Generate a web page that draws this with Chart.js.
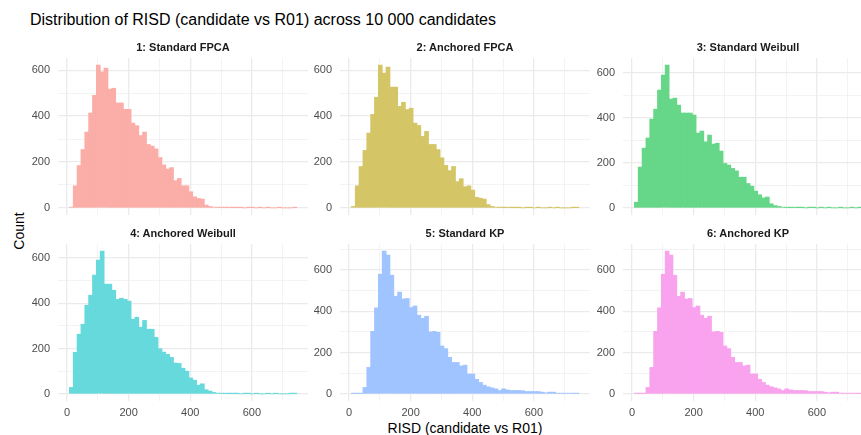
<!DOCTYPE html>
<html>
<head>
<meta charset="utf-8">
<script src="https://cdn.jsdelivr.net/npm/chart.js@4.4.1/dist/chart.umd.min.js"></script>
<style>
  html, body { margin: 0; padding: 0; background: #fff; overflow: hidden; }
  body { width: 861px; height: 435px; position: relative; font-family: "Liberation Sans", Arial, sans-serif; }
  .title { position: absolute; left: 30px; top: 12px; font-size: 16px; line-height: 16px; color: #000; white-space: nowrap; }
  .strip { position: absolute; width: 250px; font-size: 11px; line-height: 11px; font-weight: bold; color: #1a1a1a; text-align: center; white-space: nowrap; }
  .axis-title { position: absolute; font-size: 14px; line-height: 14px; color: #000; white-space: nowrap; text-align: center; }
  canvas { position: absolute; }
</style>
</head>
<body>
<div class="title">Distribution of RISD (candidate vs R01) across 10 000 candidates</div>
<div class="axis-title" style="left:-11.5px; top:224px; width:60px; transform:rotate(-90deg);">Count</div>
<div class="axis-title" style="left:365px; top:421px; width:200px;">RISD (candidate vs R01)</div>

<script>
  // bin midpoints (RISD), bin width 12.5
  const binMids = [14.25, 26.75, 39.25, 51.75, 64.25, 76.75, 89.25, 101.75, 114.25, 126.75,
    139.25, 151.75, 164.25, 176.75, 189.25, 201.75, 214.25, 226.75, 239.25, 251.75,
    264.25, 276.75, 289.25, 301.75, 314.25, 326.75, 339.25, 351.75, 364.25, 376.75,
    389.25, 401.75, 414.25, 426.75, 439.25, 451.75, 464.25, 476.75, 489.25, 501.75,
    514.25, 526.75, 539.25, 551.75, 564.25, 576.75, 589.25, 601.75, 614.25, 626.75,
    639.25, 651.75, 664.25, 676.75, 689.25, 701.75, 714.25, 726.75, 739.25];

  const panelTitles = ["1: Standard FPCA", "2: Anchored FPCA", "3: Standard Weibull",
    "4: Anchored Weibull", "5: Standard KP", "6: Anchored KP"];

  const standardFpca = [3, 96, 184, 254, 330, 413, 490, 622, 593, 609, 517, 521, 457, 457, 429, 429,
    369, 358, 315, 330, 276, 269, 257, 219, 187, 169, 175, 118, 128, 96, 96, 70, 48, 41, 38, 12, 6,
    3, 2, 2, 1, 2, 1, 1, 1, 0, 1, 1, 0, 1, 0, 1, 0, 0, 1, 0, 0, 0, 1];
  const anchoredFpca = [6, 96, 180, 250, 326, 407, 482, 622, 587, 613, 526, 526, 442, 460, 428, 434,
    369, 359, 311, 333, 276, 276, 254, 218, 185, 162, 180, 114, 127, 92, 96, 77, 46, 42, 38, 14, 6,
    3, 2, 1, 2, 1, 1, 1, 0, 1, 1, 0, 1, 0, 0, 1, 0, 1, 0, 0, 0, 1, 1];
  const standardWeibull = [25, 181, 265, 310, 394, 438, 523, 590, 634, 483, 487, 456, 421, 421, 421, 412,
    332, 341, 293, 323, 283, 287, 252, 197, 190, 175, 164, 136, 136, 108, 96, 74, 58, 44, 48, 18, 10, 6,
    3, 2, 1, 2, 1, 1, 0, 1, 1, 0, 1, 0, 1, 0, 0, 1, 0, 0, 1, 0, 1];
  const anchoredWeibull = [28, 183, 263, 307, 391, 435, 524, 590, 630, 484, 484, 457, 417, 422, 417, 409,
    329, 338, 294, 324, 285, 285, 249, 199, 184, 174, 161, 136, 134, 113, 100, 70, 60, 38, 44, 18, 12, 6,
    3, 2, 2, 1, 1, 1, 0, 1, 1, 0, 1, 0, 0, 1, 0, 1, 0, 0, 0, 1, 1];
  const standardKp = [2, 2, 2, 31, 128, 303, 417, 580, 692, 673, 575, 473, 493, 460, 462, 418,
    426, 381, 366, 376, 300, 303, 298, 232, 219, 177, 152, 152, 135, 139, 96, 96, 70, 55, 42, 34,
    29, 24, 16, 24, 19, 16, 16, 16, 15, 11, 11, 11, 11, 8, 5, 8, 8, 3, 3, 3, 3, 3, 2];
  const anchoredKp = [2, 2, 2, 31, 128, 303, 417, 580, 692, 673, 575, 473, 493, 460, 462, 418,
    426, 381, 366, 376, 300, 303, 298, 232, 219, 177, 152, 152, 135, 139, 96, 96, 70, 55, 42, 34,
    29, 24, 16, 24, 19, 16, 16, 16, 15, 11, 11, 11, 11, 8, 5, 8, 8, 3, 3, 3, 3, 3, 2];

  const counts = [standardFpca, anchoredFpca, standardWeibull, anchoredWeibull, standardKp, anchoredKp];
  const fillColours = ["#F8766D", "#B79F00", "#00BA38", "#00BFC4", "#619CFF", "#F564E3"];
  const gridTicks = [0, 100, 200, 300, 400, 500, 600, 700];

  // facet layout: 3 columns x 2 rows
  const colLeft = [13, 295, 578];
  const rowTop = [58, 244];
  const panelW = 250, panelH = 157, yAxisW = 45, pad = 16;

  // 60% fill over white, flattened so neighbouring bars don't leave seams
  function tint(hex, a) {
    const n = parseInt(hex.slice(1), 16);
    const mix = c => Math.round(c * a + 255 * (1 - a));
    return "rgb(" + mix(n >> 16) + "," + mix((n >> 8) & 255) + "," + mix(n & 255) + ")";
  }

  function gridWidth(ctx) {
    return ctx.tick && ctx.tick.value % 200 === 0 ? 1.3 : 0.6;
  }

  const tickFont = { family: "'Liberation Sans', Arial, sans-serif", size: 11 };

  function makePanel(i) {
    const col = i % 3, row = Math.floor(i / 3);
    const bottomRow = row === 1;
    const xAxisH = bottomRow ? 22 : 0;

    const canvas = document.createElement("canvas");
    canvas.width = yAxisW + panelW;
    canvas.height = pad + panelH + (bottomRow ? xAxisH : pad);
    canvas.style.left = colLeft[col] + "px";
    canvas.style.top = (rowTop[row] - pad) + "px";
    document.body.appendChild(canvas);

    const strip = document.createElement("div");
    strip.className = "strip";
    strip.textContent = panelTitles[i];
    strip.style.left = (colLeft[col] + yAxisW) + "px";
    strip.style.top = (row === 0 ? 42 : 228) + "px";
    document.body.appendChild(strip);

    const values = counts[i];
    const maxCount = Math.max(...values);

    new Chart(canvas, {
      type: "bar",
      data: {
        datasets: [{
          data: binMids.map((m, k) => ({ x: m, y: values[k] })),
          backgroundColor: tint(fillColours[i], 0.6),
          borderWidth: 0,
          inflateAmount: 0.4,
          barPercentage: 1,
          categoryPercentage: 1
        }]
      },
      options: {
        responsive: false,
        animation: false,
        events: [],
        layout: { padding: { top: pad, bottom: bottomRow ? 0 : pad, left: 0, right: 0 } },
        plugins: { legend: { display: false }, tooltip: { enabled: false } },
        scales: {
          x: {
            type: "linear",
            min: -29,
            max: 782,
            offset: false,
            afterBuildTicks: s => { s.ticks = gridTicks.map(v => ({ value: v })); },
            afterFit: s => { s.height = xAxisH; },
            border: { display: false },
            grid: { color: "#EBEBEB", lineWidth: gridWidth, drawTicks: false, offset: false },
            ticks: {
              display: bottomRow,
              autoSkip: false,
              maxRotation: 0,
              padding: 5,
              color: "#4D4D4D",
              font: tickFont,
              callback: v => (v % 200 === 0 ? String(v) : "")
            }
          },
          y: {
            min: -0.05 * maxCount,
            max: 1.05 * maxCount,
            afterBuildTicks: s => {
              s.ticks = gridTicks.filter(v => v <= s.max).map(v => ({ value: v }));
            },
            afterFit: s => { s.width = yAxisW; },
            border: { display: false },
            grid: { color: "#EBEBEB", lineWidth: gridWidth, drawTicks: false },
            ticks: {
              padding: 8,
              color: "#4D4D4D",
              font: tickFont,
              callback: v => (v % 200 === 0 ? String(v) : "")
            }
          }
        }
      }
    });
  }

  for (let i = 0; i < 6; i++) makePanel(i);
</script>
</body>
</html>
